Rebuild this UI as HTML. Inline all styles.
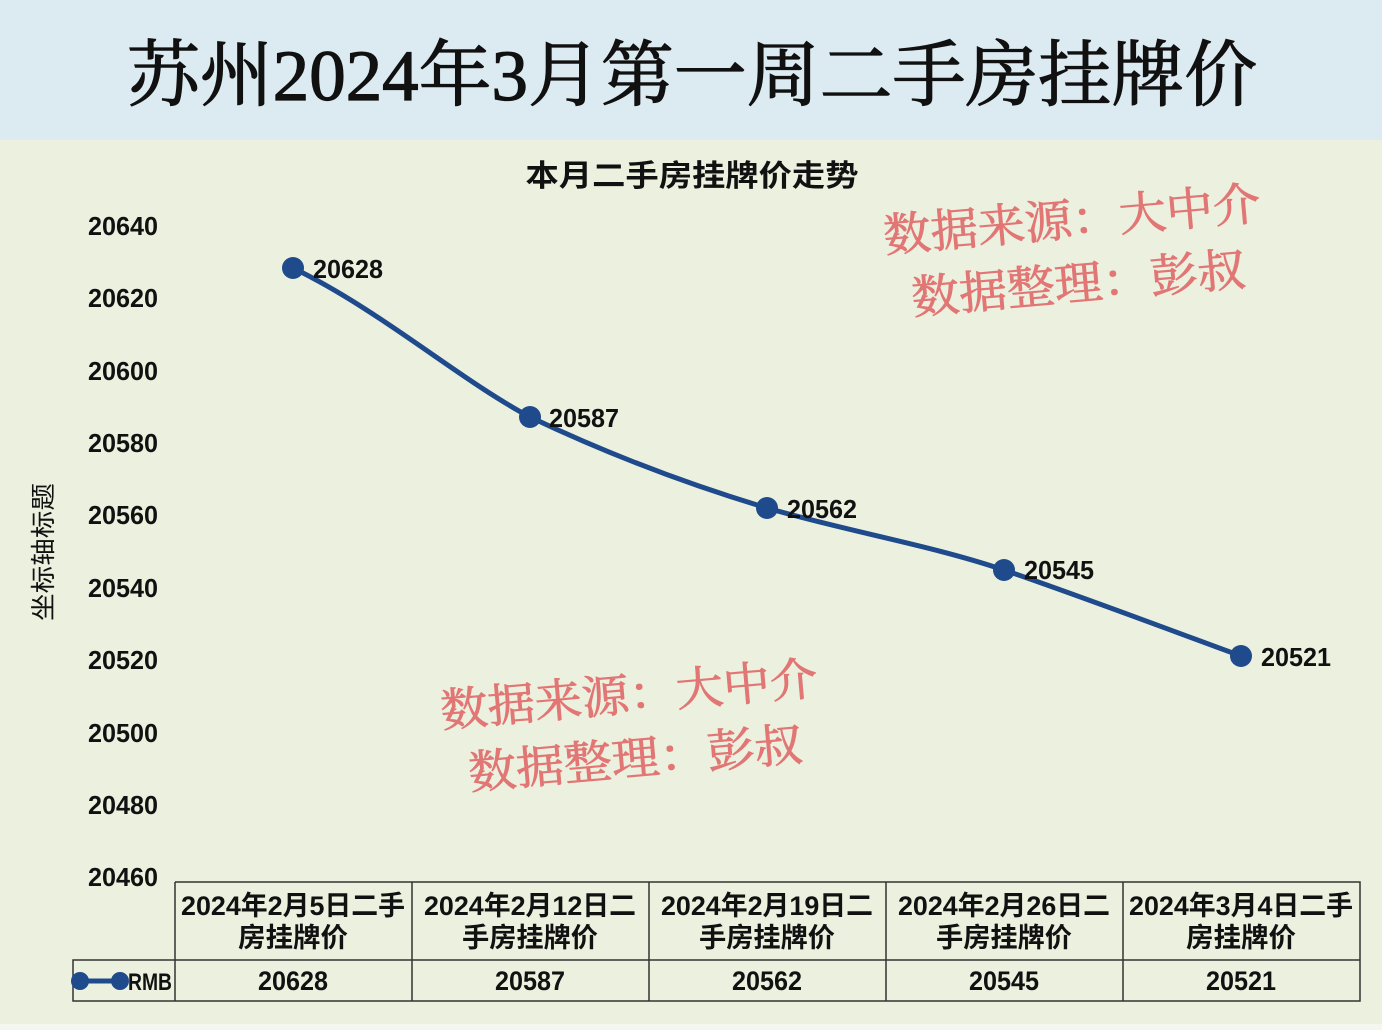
<!DOCTYPE html>
<html><head><meta charset="utf-8"><style>
html,body{margin:0;padding:0;width:1382px;height:1030px;overflow:hidden;background:#ecf0df;}
svg{display:block}
.s{font-family:"Liberation Sans","Noto Sans CJK SC",sans-serif;}
</style></head><body>
<svg width="1382" height="1030" xmlns="http://www.w3.org/2000/svg">
<rect x="0" y="0" width="1382" height="1030" fill="#ecf0df"/>
<rect x="0" y="0" width="1382" height="140" fill="#dcebf2"/>
<rect x="0" y="1024" width="1382" height="6" fill="#f4f6f0"/>
<text x="692" y="100" text-anchor="middle" font-family="'Liberation Serif','Noto Serif CJK SC',serif" font-size="72" fill="#111" stroke="#111" stroke-width="1.2" textLength="1130" lengthAdjust="spacingAndGlyphs">苏州2024年3月第一周二手房挂牌价</text>
<text x="692" y="186" text-anchor="middle" class="s" font-size="30" font-weight="bold" fill="#111" textLength="333" lengthAdjust="spacingAndGlyphs">本月二手房挂牌价走势</text>
<g class="s" font-size="26" font-weight="bold" fill="#111">
<text x="88" y="235" textLength="70" lengthAdjust="spacingAndGlyphs">20640</text><text x="88" y="307" textLength="70" lengthAdjust="spacingAndGlyphs">20620</text><text x="88" y="380" textLength="70" lengthAdjust="spacingAndGlyphs">20600</text><text x="88" y="452" textLength="70" lengthAdjust="spacingAndGlyphs">20580</text><text x="88" y="524" textLength="70" lengthAdjust="spacingAndGlyphs">20560</text><text x="88" y="597" textLength="70" lengthAdjust="spacingAndGlyphs">20540</text><text x="88" y="669" textLength="70" lengthAdjust="spacingAndGlyphs">20520</text><text x="88" y="742" textLength="70" lengthAdjust="spacingAndGlyphs">20500</text><text x="88" y="814" textLength="70" lengthAdjust="spacingAndGlyphs">20480</text><text x="88" y="886" textLength="70" lengthAdjust="spacingAndGlyphs">20460</text>
</g>
<text transform="translate(52,552) rotate(-90)" text-anchor="middle" class="s" font-size="25" fill="#111" textLength="138" lengthAdjust="spacingAndGlyphs">坐标轴标题</text>
<path d="M293,268 C380,310 460,380 530,417 C610,455 690,485 767,508 C850,532 930,545 1004,570 C1080,596 1170,630 1241,656" fill="none" stroke="#1f4a8c" stroke-width="5"/>
<g fill="#1f4a8c"><circle cx="293" cy="268" r="11"/><circle cx="530" cy="417" r="11"/><circle cx="767" cy="508" r="11"/><circle cx="1004" cy="570" r="11"/><circle cx="1241" cy="656" r="11"/></g>
<g class="s" font-size="26" font-weight="bold" fill="#111">
<text x="313" y="278" textLength="70" lengthAdjust="spacingAndGlyphs">20628</text><text x="549" y="427" textLength="70" lengthAdjust="spacingAndGlyphs">20587</text><text x="787" y="518" textLength="70" lengthAdjust="spacingAndGlyphs">20562</text><text x="1024" y="579" textLength="70" lengthAdjust="spacingAndGlyphs">20545</text><text x="1261" y="666" textLength="70" lengthAdjust="spacingAndGlyphs">20521</text>
</g>
<g font-family="'Liberation Serif','Noto Serif CJK SC',serif" font-size="46" fill="#e06868" stroke="#e06868" stroke-width="0.8" opacity="0.9">
<text transform="translate(885,252) rotate(-5)" textLength="378" lengthAdjust="spacingAndGlyphs">数据来源：大中介</text>
<text transform="translate(913,314) rotate(-5)" textLength="335" lengthAdjust="spacingAndGlyphs">数据整理：彭叔</text>
<text transform="translate(442,727) rotate(-5)" textLength="378" lengthAdjust="spacingAndGlyphs">数据来源：大中介</text>
<text transform="translate(470,789) rotate(-5)" textLength="335" lengthAdjust="spacingAndGlyphs">数据整理：彭叔</text>
</g>
<g stroke="#333" stroke-width="1.5" fill="none">
<path d="M175,882 H1360 V1001 H73 V960 H1360 M175,882 V1001 M412,882 V1001 M649,882 V1001 M886,882 V1001 M1123,882 V1001"/>
</g>
<line x1="80" y1="981" x2="120" y2="981" stroke="#1f4a8c" stroke-width="5"/>
<circle cx="80" cy="981" r="9" fill="#1f4a8c"/><circle cx="120" cy="981" r="9" fill="#1f4a8c"/>
<g class="s" font-size="27" font-weight="bold" fill="#111" text-anchor="middle">
<text x="150" y="990" font-size="24" textLength="44" lengthAdjust="spacingAndGlyphs">RMB</text>
<text x="293" y="915" textLength="224" lengthAdjust="spacingAndGlyphs">2024年2月5日二手</text><text x="293" y="947" textLength="110" lengthAdjust="spacingAndGlyphs">房挂牌价</text>
<text x="530" y="915" textLength="212" lengthAdjust="spacingAndGlyphs">2024年2月12日二</text><text x="530" y="947" textLength="136" lengthAdjust="spacingAndGlyphs">手房挂牌价</text>
<text x="767" y="915" textLength="212" lengthAdjust="spacingAndGlyphs">2024年2月19日二</text><text x="767" y="947" textLength="136" lengthAdjust="spacingAndGlyphs">手房挂牌价</text>
<text x="1004" y="915" textLength="212" lengthAdjust="spacingAndGlyphs">2024年2月26日二</text><text x="1004" y="947" textLength="136" lengthAdjust="spacingAndGlyphs">手房挂牌价</text>
<text x="1241" y="915" textLength="224" lengthAdjust="spacingAndGlyphs">2024年3月4日二手</text><text x="1241" y="947" textLength="110" lengthAdjust="spacingAndGlyphs">房挂牌价</text>
<text x="293" y="990" textLength="70" lengthAdjust="spacingAndGlyphs">20628</text><text x="530" y="990" textLength="70" lengthAdjust="spacingAndGlyphs">20587</text><text x="767" y="990" textLength="70" lengthAdjust="spacingAndGlyphs">20562</text><text x="1004" y="990" textLength="70" lengthAdjust="spacingAndGlyphs">20545</text><text x="1241" y="990" textLength="70" lengthAdjust="spacingAndGlyphs">20521</text>
</g>
</svg>
</body></html>
